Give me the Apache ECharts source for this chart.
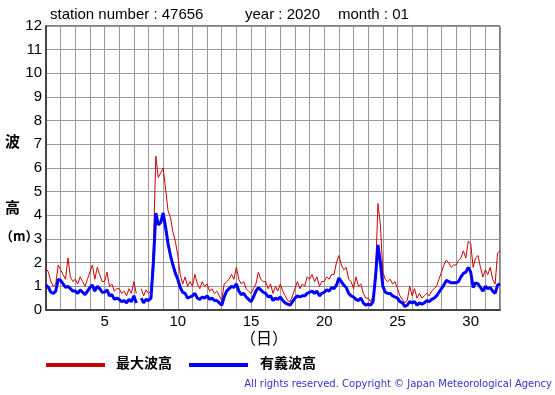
<!DOCTYPE html>
<html><head><meta charset="utf-8">
<script src="https://cdn.jsdelivr.net/npm/echarts@6/dist/echarts.min.js"></script>
<style>html,body{margin:0;padding:0;background:#fff}#c{width:555px;height:395px}</style>
</head><body><div id="c"></div>
<script>
// Observations every 4 hours, starting day 1 00:00
var startDay = 1;
var stepsPerDay = 6;
var maxWave = [
1.75,1.6,1.2,1.0,1.1,1.9,
1.7,1.5,1.3,2.2,1.4,1.2,
1.3,1.1,1.4,1.2,1.0,1.3,
1.6,1.9,1.3,1.8,1.5,1.2,
1.2,1.6,1.0,1.1,0.8,0.9,
0.9,0.7,0.8,0.6,0.9,0.7,
1.2,0.7,null,0.9,0.6,0.85,
0.7,0.8,2.7,6.5,5.6,5.8,
6.0,5.1,4.2,3.9,3.3,2.9,
2.3,1.5,1.1,1.4,1.0,1.2,
1.0,1.5,1.1,0.9,1.2,1.0,
1.1,0.8,0.9,0.7,0.8,0.6,
0.4,1.1,1.2,1.3,1.5,1.3,
1.8,1.3,1.1,1.2,0.9,0.8,
0.7,0.9,1.1,1.6,1.3,1.2,
1.2,0.9,1.1,0.7,1.0,0.8,
1.1,0.8,0.6,0.4,0.35,0.6,
0.9,1.2,0.9,1.1,1.0,1.4,
1.3,1.5,1.2,1.4,1.0,1.2,
1.2,1.4,1.3,1.5,1.5,2.0,
2.3,1.9,1.7,1.8,1.3,1.2,
0.9,1.4,1.0,1.1,0.7,0.5,
0.5,0.35,0.6,1.5,4.5,3.6,
1.6,1.3,1.2,1.3,1.1,1.2,
0.9,0.6,0.45,0.3,0.4,1.0,
0.6,0.9,0.5,0.7,0.5,0.6,
0.7,0.6,0.8,0.9,1.0,1.3,
1.6,1.9,2.1,2.0,1.8,1.9,
1.9,2.1,2.2,2.5,2.2,2.9,
2.8,1.8,2.2,2.3,1.8,1.4,
1.7,1.5,1.8,1.3,1.1,2.4,
2.5];
var sigWave = [
1.05,0.95,0.75,0.7,0.8,1.3,
1.25,1.1,0.95,1.0,0.9,0.8,
0.8,0.7,0.85,0.75,0.65,0.8,
0.95,1.05,0.8,1.0,0.9,0.75,
0.75,0.85,0.6,0.65,0.45,0.5,
0.45,0.35,0.4,0.3,0.45,0.35,
0.6,0.3,null,0.5,0.3,0.45,
0.4,0.5,2.0,4.1,3.6,3.7,
4.1,3.5,2.8,2.3,1.9,1.55,
1.3,0.95,0.75,0.7,0.5,0.55,
0.6,0.7,0.5,0.45,0.55,0.5,
0.6,0.45,0.5,0.4,0.4,0.3,
0.2,0.55,0.8,0.9,1.0,0.95,
1.1,0.8,0.65,0.7,0.55,0.45,
0.35,0.55,0.8,0.95,0.85,0.75,
0.7,0.55,0.6,0.4,0.5,0.45,
0.55,0.4,0.3,0.25,0.2,0.35,
0.5,0.6,0.55,0.6,0.6,0.7,
0.75,0.8,0.7,0.8,0.6,0.7,
0.75,0.85,0.8,0.95,0.9,1.05,
1.35,1.2,1.05,0.95,0.7,0.6,
0.55,0.45,0.4,0.5,0.3,0.2,
0.25,0.2,0.35,1.4,2.75,2.0,
1.0,0.75,0.7,0.7,0.6,0.55,
0.5,0.35,0.3,0.15,0.2,0.35,
0.3,0.35,0.2,0.3,0.25,0.3,
0.4,0.35,0.45,0.5,0.6,0.75,
0.9,1.05,1.25,1.2,1.15,1.15,
1.15,1.2,1.4,1.55,1.6,1.8,
1.6,0.95,1.15,1.1,0.95,0.8,
1.0,0.9,0.95,0.8,0.7,1.05,
1.1];
var xLabelDays = [5,10,15,20,25,30];
var xMin = 1, xMax = 32;
var yMin = 0, yMax = 12;
var seriesNames = ['最大波高','有義波高'];

function toPairs(arr){
  return arr.map(function(v,i){ return [startDay + i/stepsPerDay, v]; });
}
var F = 'Liberation Sans, Arial, sans-serif';
var CJK = '"Noto Sans CJK JP", sans-serif';
var chart = echarts.init(document.getElementById('c'), null, {renderer:'canvas'});
chart.setOption({
  animation:false,
  backgroundColor:'#fff',
  grid:{left:46,right:55,top:26,bottom:85,show:true,borderColor:'#000',borderWidth:1,backgroundColor:'transparent'},
  xAxis:{type:'value',min:xMin,max:xMax,interval:1,
    axisLine:{show:true,onZero:false,lineStyle:{color:'#444',width:2}},
    axisTick:{show:false},
    splitLine:{show:true,lineStyle:{color:'#999',width:1}},
    axisLabel:{fontFamily:F,fontSize:15,color:'#000',margin:4,
      formatter:function(v){return xLabelDays.indexOf(v)>=0?String(v):'';}}
  },
  yAxis:{type:'value',min:yMin,max:yMax,interval:1,
    axisLine:{show:true,lineStyle:{color:'#444',width:2}},
    axisTick:{show:false},
    splitLine:{show:true,lineStyle:{color:'#999',width:1}},
    axisLabel:{fontFamily:F,fontSize:15,color:'#000',margin:4}
  },
  series:[
    {name:seriesNames[0],type:'line',data:toPairs(maxWave),showSymbol:false,connectNulls:false,
     lineStyle:{color:'#d00000',width:1},z:2},
    {name:seriesNames[1],type:'line',data:toPairs(sigWave),showSymbol:false,connectNulls:false,
     lineStyle:{color:'#0000ff',width:3},z:3}
  ],
  graphic:[
    {type:'text',left:50,top:7,style:{text:'station number : 47656',font:'15px '+F,fill:'#000'}},
    {type:'text',left:245,top:7,style:{text:'year : 2020',font:'15px '+F,fill:'#000'}},
    {type:'text',left:338,top:7,style:{text:'month : 01',font:'15px '+F,fill:'#000'}},
    {type:'text',left:5,top:134,style:{text:'波',font:'bold 15px '+CJK,fill:'#000'}},
    {type:'text',left:5,top:200,style:{text:'高',font:'bold 15px '+CJK,fill:'#000'}},
    {type:'text',left:0,top:230,style:{text:'（m）',font:'bold 13px '+CJK,fill:'#000'}},
    {type:'text',left:240,top:330,style:{text:'（日）',font:'16px '+CJK,fill:'#000'}},
    {type:'line',shape:{x1:46,y1:365,x2:105,y2:365},style:{stroke:'#cc0000',lineWidth:4}},
    {type:'text',left:116,top:356,style:{text:seriesNames[0],font:'bold 14px '+CJK,fill:'#000'}},
    {type:'line',shape:{x1:189,y1:365,x2:248,y2:365},style:{stroke:'#0000ff',lineWidth:4}},
    {type:'text',left:260,top:356,style:{text:seriesNames[1],font:'bold 14px '+CJK,fill:'#000'}},
    {type:'text',right:3,top:379,style:{text:'All rights reserved. Copyright © Japan Meteorological Agency',font:'10px DejaVu Sans, sans-serif',fill:'#3333cc'}}
  ]
});
</script></body></html>
